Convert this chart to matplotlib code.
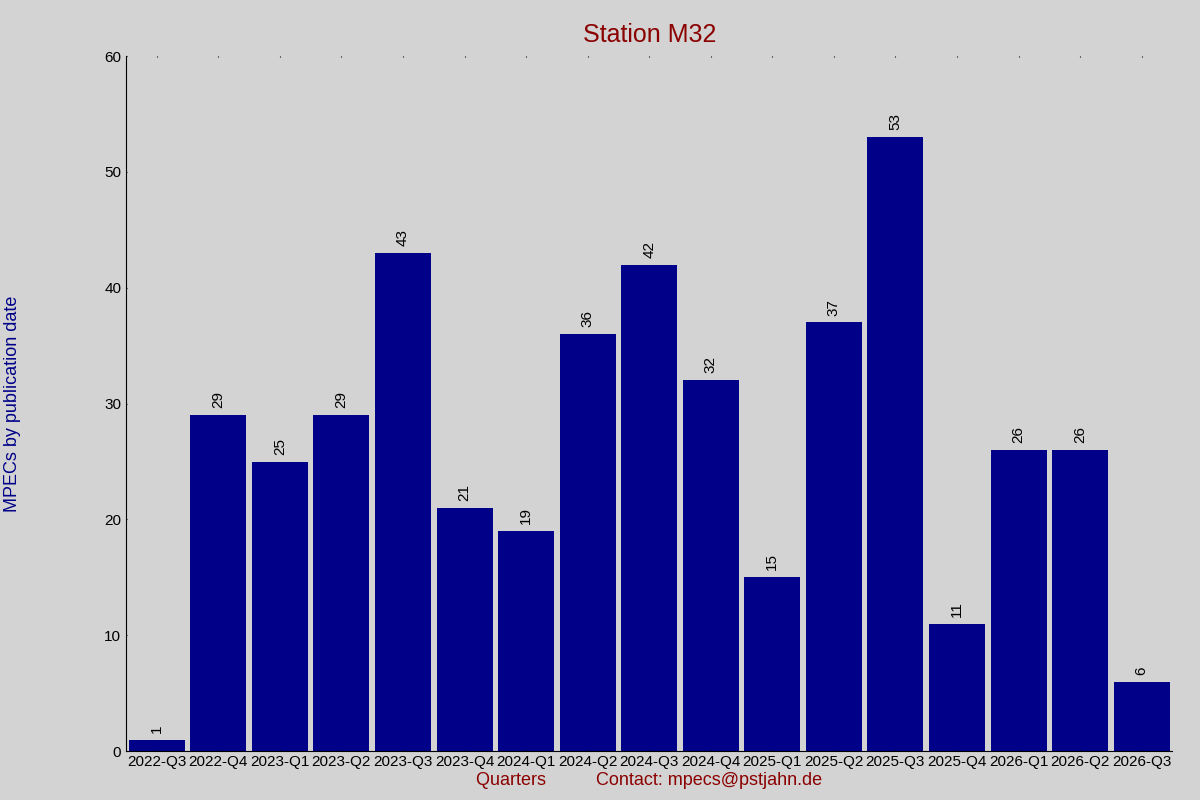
import matplotlib
matplotlib.use("Agg")
import matplotlib.pyplot as plt

quarters = ["2022-Q3","2022-Q4","2023-Q1","2023-Q2","2023-Q3","2023-Q4","2024-Q1","2024-Q2",
            "2024-Q3","2024-Q4","2025-Q1","2025-Q2","2025-Q3","2025-Q4","2026-Q1","2026-Q2","2026-Q3"]
counts = [1,29,25,29,43,21,19,36,42,32,15,37,53,11,26,26,6]

plt.rcParams['font.family'] = ['Liberation Sans', 'DejaVu Sans']
fig = plt.figure(figsize=(12, 8), dpi=100, facecolor='#d3d3d3')
ax = fig.add_axes([0.105, 0.061, 0.872, 0.869], facecolor='#d3d3d3')
x = list(range(len(quarters)))
ax.bar(x, counts, width=0.91, color='#000088')
for xi, v in zip(x, counts):
    ax.text(xi, v + 0.6, str(v), rotation=90, ha='center', va='bottom', fontsize=11)
ax.set_xlim(-0.5, len(quarters) - 0.5)
ax.set_ylim(0, 60)
ax.set_yticks(range(0, 61, 10))
ax.set_xticks(x)
ax.set_xticklabels(quarters, fontsize=11)
ax.tick_params(axis='x', length=0, pad=3)
ax.tick_params(axis='y', labelsize=11, length=5)
ax.tick_params(top=True, which='both', direction='in', length=1)
for s in ['top', 'right']:
    ax.spines[s].set_visible(False)
ax.set_title("Station M32", color='#8b0000', fontsize=18, pad=10)
ax.set_xlabel("Quarters          Contact: mpecs@pstjahn.de", color='#8b0000', fontsize=13, labelpad=2)
ax.set_ylabel("MPECs by publication date", color='#000088', fontsize=13, labelpad=60)
fig.savefig("out.png", dpi=100, facecolor=fig.get_facecolor())
